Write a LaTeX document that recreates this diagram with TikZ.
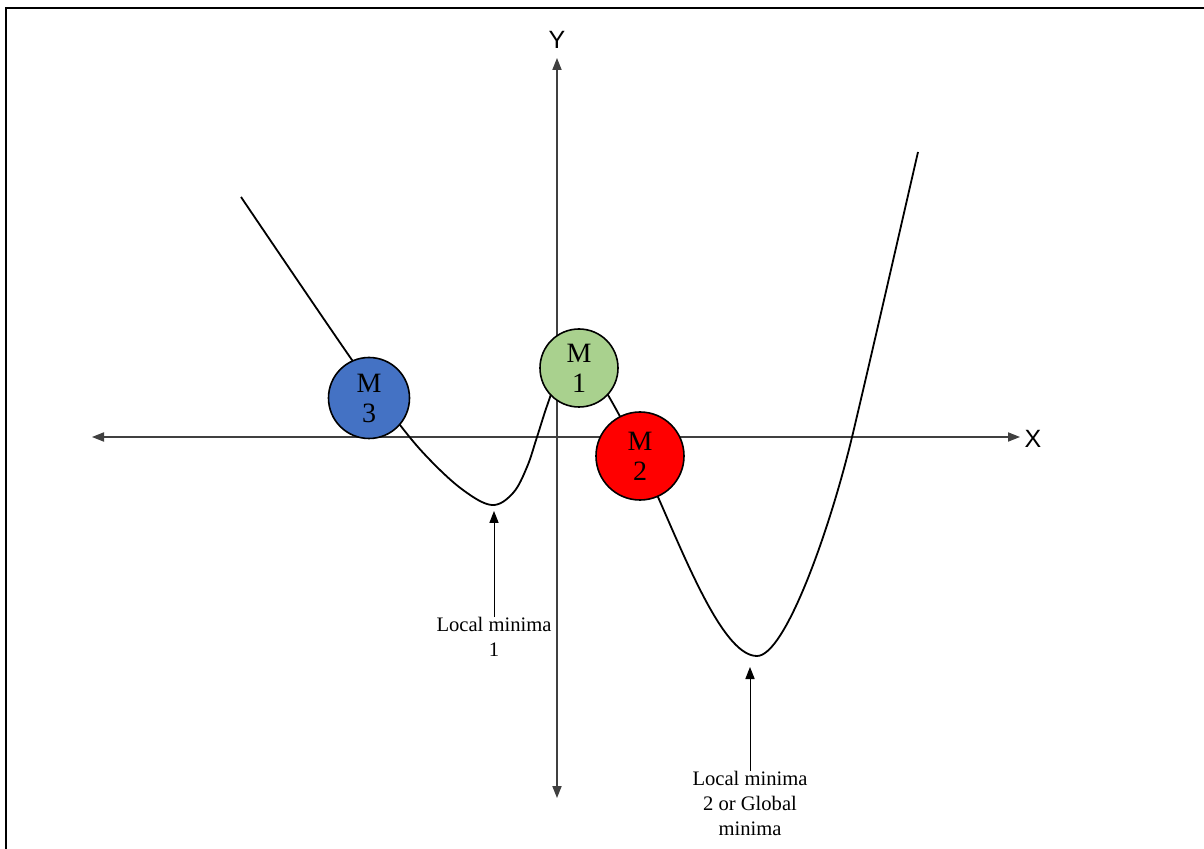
\documentclass[tikz,border=0pt]{standalone}
\usepackage{fontspec}
\setmainfont{Liberation Serif}
\newfontfamily\axisfont{Liberation Sans}
\usetikzlibrary{arrows.meta}
\definecolor{mblue}{HTML}{4472C4}
\definecolor{mgreen}{HTML}{A9D18E}
\definecolor{mred}{HTML}{FF0000}
\definecolor{axisgray}{HTML}{404040}
\tikzset{
  axisline/.style={draw=axisgray, line width=0.6pt, -{Triangle[length=6pt,width=4.6pt]}},
  ball/.style={circle, draw=black, line width=0.8pt, inner sep=0pt, align=center,
    font=\fontsize{14}{15}\selectfont},
  pointer/.style={draw=black, line width=0.5pt, -{Triangle[length=6pt,width=4.6pt]}},
  label/.style={align=center, inner sep=0pt, font=\fontsize{10.3}{12.5}\selectfont},
  axislabel/.style={inner sep=0pt, font=\axisfont\fontsize{12.5}{14}\selectfont},
  curve/.style={draw=black, line width=0.9pt},
  frame/.style={draw=black, line width=1pt}
}
\begin{document}
\begin{tikzpicture}[x=0.5pt, y=-0.5pt]
\useasboundingbox (0,0) rectangle (1204,849);
% frame
\draw[frame] (6,849) -- (6,8) -- (1204,8);
% axes
\coordinate (o) at (557,437);
\coordinate (xl) at (92,437);
\coordinate (xr) at (1020,437);
\coordinate (yt) at (557,58);
\coordinate (yb) at (557,798);
\draw[axisline] (o) -- (xl);
\draw[axisline] (o) -- (xr);
\draw[axisline] (o) -- (yt);
\draw[axisline] (o) -- (yb);
\node[axislabel] (xlab) at (1033,439) {X};
\node[axislabel] (ylab) at (557,40) {Y};
% curve
\draw[curve] plot[smooth, tension=0.6] coordinates {
  (241,197) (352,360) (400,425) (430,460) (463,490) (492,505)
  (513,493) (527,467) (537,437) (548,403) (565,358) (580,352) (608,395)
  (640,455) (658,497)}
  .. controls (690,570) and (725,656) .. (757,656)
  .. controls (785,656) and (830,530) .. (853,433)
  .. controls (875,340) and (900,230) .. (918,152);
% balls
\node[ball, fill=mblue, minimum size=40.5pt] (m3) at (369,398) {M\\3};
\node[ball, fill=mgreen, minimum size=39pt] (m1) at (579,368) {M\\1};
\node[ball, fill=mred, minimum size=44pt] (m2) at (640,456) {M\\2};
% minima pointers
\coordinate (min1) at (494,511);
\coordinate (min2) at (750,667);
\node[label, anchor=north] (lm1) at (494,617) {Local minima\\1};
\node[label, anchor=north] (lm2) at (750,771) {Local minima\\2 or Global\\minima};
\draw[pointer] (lm1.north) -- (min1);
\draw[pointer] (lm2.north) -- (min2);
\end{tikzpicture}
\end{document}
